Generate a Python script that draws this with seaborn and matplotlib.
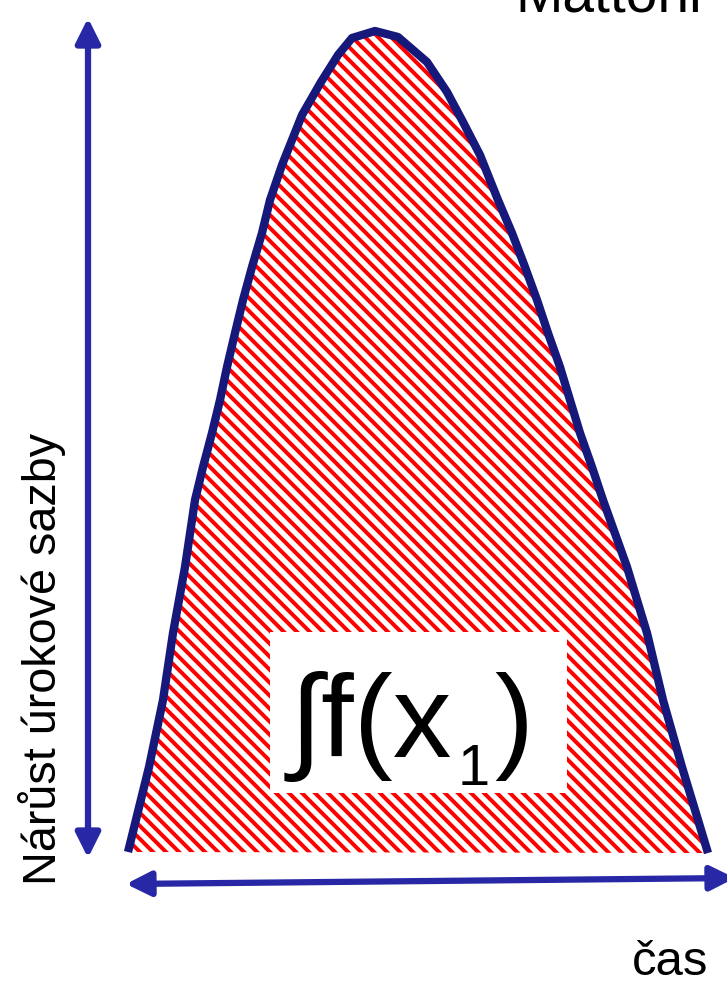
import matplotlib
matplotlib.use("Agg")
import matplotlib.pyplot as plt
from matplotlib.patches import Rectangle
from matplotlib.collections import LineCollection
import numpy as np
import pandas as pd
import seaborn as sns

# Curve of the rate increase over time (horizontal = time, vertical = rate)
time = [128, 149, 163, 173, 185, 195, 203, 212, 220, 227, 235, 243, 252,
        262, 270, 282, 302, 321, 338, 352, 375,
        398, 427, 447, 463, 480, 498, 512, 525, 537, 548, 560, 570, 580,
        592, 603, 627, 647, 663, 682, 708]
rate = [131, 216, 283, 350, 416, 483, 516, 550, 583, 616, 650, 683, 716,
        750, 783, 818, 868, 901, 928, 945, 952,
        946, 921, 891, 861, 828, 783, 750, 716, 683, 650, 616, 583, 550,
        516, 483, 416, 350, 283, 216, 130]

y_label = "Nárůst úrokové sazby"
x_label = "čas"
title = "Mattoni"

curve_color = "#17197a"
arrow_color = "#2828a6"
stripe_color = "#ff0000"

sns.set_theme(style="white")
plt.rcParams["font.family"] = ["Liberation Sans", "DejaVu Sans"]

DPI = 82
W, H = 727, 983
fig = plt.figure(figsize=(W / DPI, H / DPI), dpi=DPI)
ax = fig.add_axes([0, 0, 1, 1])
ax.set_xlim(0, W)
ax.set_ylim(0, H)
ax.axis("off")

df = pd.DataFrame({"time": time, "rate": rate})

# area under the curve, filled with diagonal red stripes
area = ax.fill(df["time"], df["rate"], facecolor="white",
               edgecolor="none", linewidth=0, zorder=1)[0]
step = 13
offsets = np.arange(-900, 1000, step)
segs = [[(0, H - k), (W, H - k - W)] for k in offsets]
stripes = LineCollection(segs, colors=stripe_color, linewidths=3.5,
                         zorder=1.5)
ax.add_collection(stripes)
stripes.set_clip_path(area)

# the curve itself
sns.lineplot(data=df, x="time", y="rate", sort=False, estimator=None,
             color=curve_color, linewidth=7.3, ax=ax, zorder=3,
             solid_capstyle="butt", solid_joinstyle="round")

# white label box with the integral
ax.add_patch(Rectangle((270, H - 793), 297, 161, facecolor="white",
                       edgecolor="none", zorder=2))
ax.text(290, H - 757, "∫f(x", fontsize=103, va="baseline", ha="left",
        color="black", zorder=4)
ax.text(458, H - 785, "1", fontsize=51, va="baseline", ha="left",
        color="black", zorder=4)
ax.text(494, H - 757, ")", fontsize=103, va="baseline", ha="left",
        color="black", zorder=4)

# axis arrows
arrow_style = "<|-|>,head_length=1.0,head_width=0.5"
ax.annotate("", xy=(88, H - 18), xytext=(88, H - 858),
            arrowprops=dict(arrowstyle=arrow_style, color=arrow_color,
                            lw=5.5, mutation_scale=18,
                            shrinkA=0, shrinkB=0),
            annotation_clip=False, zorder=5)
ax.annotate("", xy=(735, H - 878), xytext=(126, H - 884),
            arrowprops=dict(arrowstyle=arrow_style, color=arrow_color,
                            lw=5.5, mutation_scale=18,
                            shrinkA=0, shrinkB=0),
            annotation_clip=False, zorder=5)

# labels
ax.text(42, H - 885, y_label, rotation=90, fontsize=41, va="center",
        ha="left", rotation_mode="anchor", color="black")
ax.text(632, H - 975, x_label, fontsize=43, va="baseline", ha="left",
        color="black")
ax.text(515, H - 12, title, fontsize=50, va="baseline", ha="left",
        color="black")

fig.savefig("out.png", dpi=DPI, facecolor="white")
